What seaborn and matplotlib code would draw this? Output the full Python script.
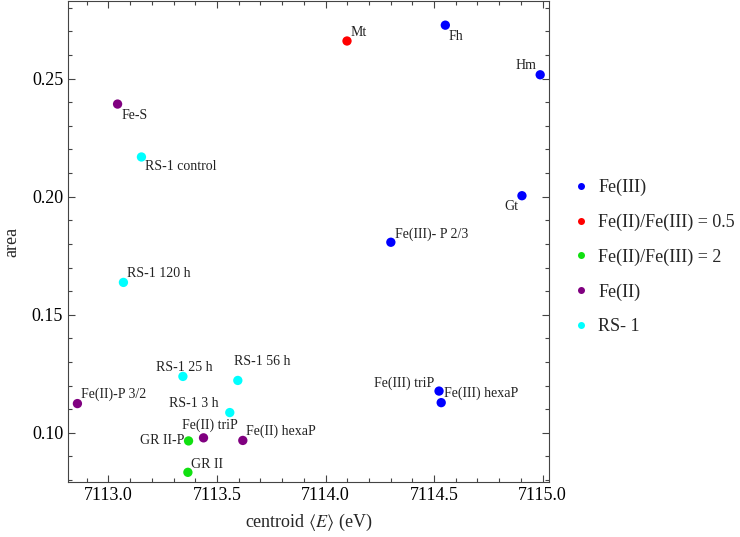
import pandas as pd
import seaborn as sns
import matplotlib.pyplot as plt
from matplotlib.ticker import MultipleLocator

# sample labels, centroid energy (eV), pre-edge area, reference group
labels = ['Mt', 'Fh', 'Hm', 'Gt', 'Fe(III)- P 2/3', 'Fe(III) triP', 'Fe(III) hexaP',
          'Fe-S', 'Fe(II)-P 3/2', 'Fe(II) triP', 'Fe(II) hexaP', 'GR II-P', 'GR II',
          'RS-1 control', 'RS-1 120 h', 'RS-1 25 h', 'RS-1 56 h', 'RS-1 3 h']
centroid = [7114.099, 7114.552, 7114.989, 7114.905, 7114.301, 7114.523, 7114.533,
            7113.042, 7112.857, 7113.438, 7113.619, 7113.369, 7113.366,
            7113.152, 7113.069, 7113.343, 7113.596, 7113.559]
area = [0.2659, 0.2726, 0.2516, 0.2004, 0.1807, 0.1177, 0.1128,
        0.2392, 0.1124, 0.0979, 0.0968, 0.0966, 0.0833,
        0.2168, 0.1637, 0.1239, 0.1222, 0.1086]
group = ['Fe(II)/Fe(III) = 0.5', 'Fe(III)', 'Fe(III)', 'Fe(III)', 'Fe(III)', 'Fe(III)', 'Fe(III)',
         'Fe(II)', 'Fe(II)', 'Fe(II)', 'Fe(II)', 'Fe(II)/Fe(III) = 2', 'Fe(II)/Fe(III) = 2',
         'RS- 1', 'RS- 1', 'RS- 1', 'RS- 1', 'RS- 1']

groups = ['Fe(III)', 'Fe(II)/Fe(III) = 0.5', 'Fe(II)/Fe(III) = 2', 'Fe(II)', 'RS- 1']
colors = ['#0000ff', '#ff0000', '#11e011', '#800080', '#00ffff']

# label placement: offset in pixels (right, up) and alignment
label_pos = {
    'Mt': (4, 8, 'left'), 'Fh': (3, -11, 'left'), 'Hm': (-4, 9, 'right'),
    'Gt': (-4, -11, 'right'), 'Fe(III)- P 2/3': (4, 8, 'left'),
    'Fe(III) triP': (-5, 8, 'right'), 'Fe(III) hexaP': (3, 9, 'left'),
    'Fe-S': (4, -11, 'left'), 'Fe(II)-P 3/2': (4, 9, 'left'),
    'Fe(II) triP': (6, 13, 'center'), 'Fe(II) hexaP': (3, 9, 'left'),
    'GR II-P': (-4, 0, 'right'), 'GR II': (3, 8, 'left'),
    'RS-1 control': (4, -10, 'left'), 'RS-1 120 h': (4, 9, 'left'),
    'RS-1 25 h': (1, 9, 'center'), 'RS-1 56 h': (-4, 19, 'left'),
    'RS-1 3 h': (-11, 9, 'right'),
}

df = pd.DataFrame({'label': labels, 'centroid': centroid, 'area': area, 'group': group})

sns.set_theme(style='ticks')
plt.rcParams['font.family'] = ['Liberation Serif', 'DejaVu Serif']
plt.rcParams['mathtext.fontset'] = 'stix'

fig = plt.figure(figsize=(7.4, 5.37), dpi=100)
ax = fig.add_axes([0.092, 0.1024, 0.65, 0.8956])

sns.scatterplot(data=df, x='centroid', y='area', hue='group', hue_order=groups,
                palette=dict(zip(groups, colors)), s=45, linewidth=0, ax=ax)

for lab, x, y in zip(labels, centroid, area):
    dx, dy, ha = label_pos[lab]
    ax.annotate(lab, (x, y), xytext=(dx, dy), textcoords='offset pixels',
                ha=ha, va='center', fontsize=10, color='#222222')

ax.set_xlim(7112.814, 7115.03)
ax.set_ylim(0.0792, 0.2828)
ax.xaxis.set_major_locator(MultipleLocator(0.5))
ax.xaxis.set_minor_locator(MultipleLocator(0.1))
ax.yaxis.set_major_locator(MultipleLocator(0.05))
ax.yaxis.set_minor_locator(MultipleLocator(0.01))
ax.xaxis.set_major_formatter(plt.FuncFormatter(lambda v, p: f'{v:.1f}'))
ax.yaxis.set_major_formatter(plt.FuncFormatter(lambda v, p: f'{v:.2f}'))
ax.tick_params(which='both', direction='in', top=True, right=True,
               labelsize=13, colors='#444444', labelcolor='black')
ax.tick_params(which='major', length=5, width=0.8)
ax.tick_params(which='minor', length=3, width=0.8)
for sp in ax.spines.values():
    sp.set_color('#444444')
    sp.set_linewidth(0.8)

ax.set_xlabel(r'centroid $\langle E\rangle$ (eV)', fontsize=13, labelpad=6)
ax.set_ylabel('area', fontsize=13, labelpad=8)

handles, leg_labels = ax.get_legend_handles_labels()
ax.get_legend().remove()
fig.legend(handles, leg_labels, loc='center left', bbox_to_anchor=(0.773, 0.5214),
           frameon=False, fontsize=13, markerscale=0.75, handlelength=1.0,
           handletextpad=0.45, labelspacing=0.97, borderpad=0, borderaxespad=0)

fig.savefig('out.png', dpi=100)
